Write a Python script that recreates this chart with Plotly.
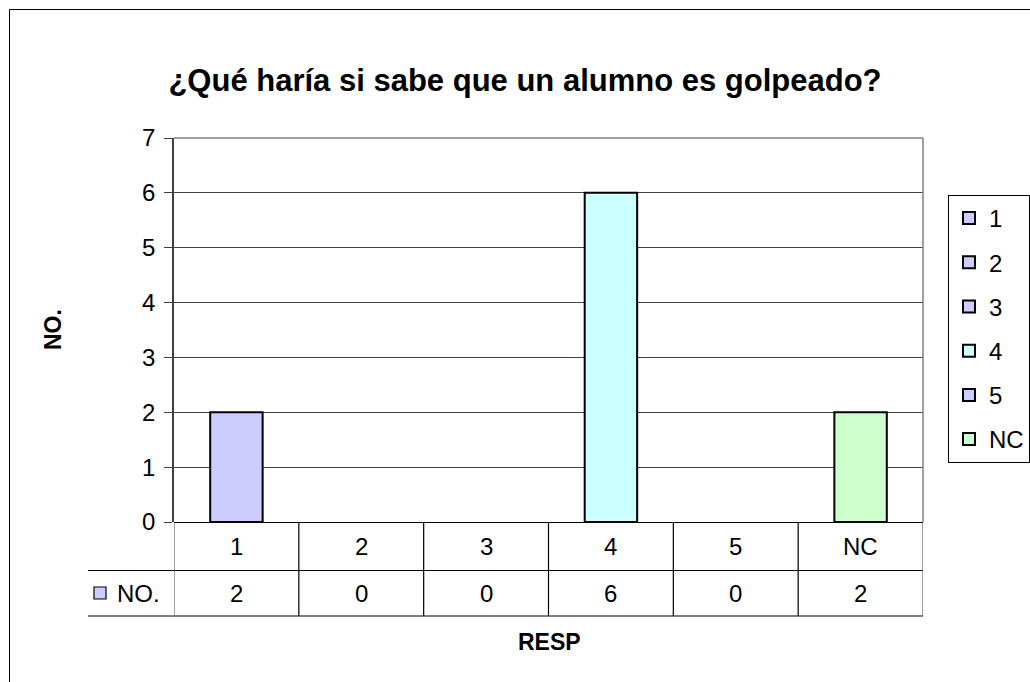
import plotly.graph_objects as go

# Survey answers and their counts
categories = ["1", "2", "3", "4", "5", "NC"]
counts = [2, 0, 0, 6, 0, 2]
bar_colors = ["#CCCCFF", "#CCCCFF", "#CCCCFF", "#CCFFFF", "#CCCCFF", "#CCFFCC"]
y_ticks = [0, 1, 2, 3, 4, 5, 6, 7]

title_text = "¿Qué haría si sabe que un alumno es golpeado?"
x_title = "RESP"
y_title = "NO."
series_name = "NO."

W, H = 1030, 682
L, R, T, B = 174, 107, 138, 160
PW, PH = W - L - R, H - T - B

FONT = "Liberation Sans, Arial, sans-serif"
TXT = 24


def px_x(p):
    return (p - L) / PW


def px_y(p):
    return (H - B - p) / PH


fig = go.Figure()

# one trace per answer so each gets its own legend entry; empty answers draw no bar
for cat, val, col in zip(categories, counts, bar_colors):
    fig.add_trace(go.Bar(
        x=[cat], y=[val if val else None], name=cat,
        marker=dict(color=col, line=dict(color="#000000", width=2)),
        width=0.42, legendgroup=cat, showlegend=True,
        hoverinfo="x+y",
    ))

shapes = []
annotations = []

# outer chart frame
shapes.append(dict(type="rect", xref="paper", yref="paper",
                   x0=px_x(9.5), x1=px_x(1060), y0=px_y(9.5), y1=px_y(720),
                   line=dict(color="#000000", width=1), fillcolor="rgba(0,0,0,0)",
                   layer="below"))

# plot-area border (top and right)
shapes.append(dict(type="line", xref="paper", yref="paper",
                   x0=0, x1=1, y0=1, y1=1, line=dict(color="#808080", width=1.5)))
shapes.append(dict(type="line", xref="paper", yref="paper",
                   x0=1, x1=1, y0=0, y1=1, line=dict(color="#808080", width=1.5)))

# data table below the plot
row1_top, row1_bot, row2_bot = 522.5, 570.5, 616
table_left = 88
for yy in (row1_top, row1_bot, row2_bot):
    x0 = 0 if yy == row1_top else px_x(table_left)
    shapes.append(dict(type="line", xref="paper", yref="paper",
                       x0=x0, x1=1, y0=px_y(yy), y1=px_y(yy),
                       line=dict(color="#000000", width=1.2)))
for k in range(len(categories) + 1):
    shapes.append(dict(type="line", xref="x", yref="paper",
                       x0=k - 0.5, x1=k - 0.5, y0=px_y(row1_top), y1=px_y(row2_bot),
                       line=dict(color="#000000" if 0 < k < len(categories) else "#606060",
                                 width=1.2)))

for i, (cat, val) in enumerate(zip(categories, counts)):
    annotations.append(dict(x=i, y=px_y((row1_top + row1_bot) / 2), xref="x", yref="paper",
                            xanchor="center", yanchor="middle",
                            text=cat, showarrow=False,
                            font=dict(family=FONT, size=TXT, color="#000000")))
    annotations.append(dict(x=i, y=px_y((row1_bot + row2_bot) / 2), xref="x", yref="paper",
                            xanchor="center", yanchor="middle",
                            text=str(val), showarrow=False,
                            font=dict(family=FONT, size=TXT, color="#000000")))

# legend key for the series row of the table
shapes.append(dict(type="rect", xref="paper", yref="paper",
                   x0=px_x(94), x1=px_x(106), y0=px_y(587), y1=px_y(599),
                   fillcolor="#CCCCFF", line=dict(color="#000000", width=1.2)))
annotations.append(dict(x=px_x(115), y=px_y((row1_bot + row2_bot) / 2),
                        xref="paper", yref="paper", xanchor="left", yanchor="middle",
                        text=series_name, showarrow=False,
                        font=dict(family=FONT, size=TXT, color="#000000")))

# axis titles
annotations.append(dict(x=px_x(549), y=px_y(642), xref="paper", yref="paper",
                        xanchor="center", yanchor="middle",
                        text="<b>%s</b>" % x_title, showarrow=False,
                        font=dict(family=FONT, size=23, color="#000000")))
annotations.append(dict(x=px_x(53), y=px_y(330), xref="paper", yref="paper",
                        xanchor="center", yanchor="middle",
                        text="<b>%s</b>" % y_title, showarrow=False, textangle=-90,
                        font=dict(family=FONT, size=23, color="#000000")))

fig.update_layout(
    width=W, height=H,
    margin=dict(l=L, r=R, t=T, b=B, autoexpand=False),
    paper_bgcolor="#FFFFFF", plot_bgcolor="#FFFFFF",
    barmode="overlay",
    title=dict(text="<b>%s</b>" % title_text, x=525 / W, xanchor="center",
               y=1 - 80 / H, yanchor="middle", yref="container",
               font=dict(family=FONT, size=31, color="#000000")),
    showlegend=True,
    legend=dict(x=px_x(948), y=px_y(195), xanchor="left", yanchor="top",
                xref="paper", yref="paper",
                bordercolor="#000000", borderwidth=1, bgcolor="#FFFFFF",
                font=dict(family=FONT, size=TXT, color="#000000"),
                tracegroupgap=10, itemclick=False, itemdoubleclick=False),
    xaxis=dict(type="category", categoryorder="array", categoryarray=categories,
               range=[-0.5, len(categories) - 0.5], showticklabels=False,
               showgrid=False, zeroline=False, showline=False, ticks="",
               fixedrange=True),
    yaxis=dict(range=[0, 7], tickvals=y_ticks, ticktext=[str(v) for v in y_ticks],
               showgrid=True, gridcolor="#404040", gridwidth=1,
               zeroline=False, showline=True, linecolor="#404040", linewidth=1.5,
               ticks="outside", ticklen=8, tickcolor="#404040", tickwidth=1.2,
               ticklabelstandoff=4,
               tickfont=dict(family=FONT, size=TXT, color="#000000"),
               fixedrange=True),
    shapes=shapes,
    annotations=annotations,
)

fig.write_html("out.html")
